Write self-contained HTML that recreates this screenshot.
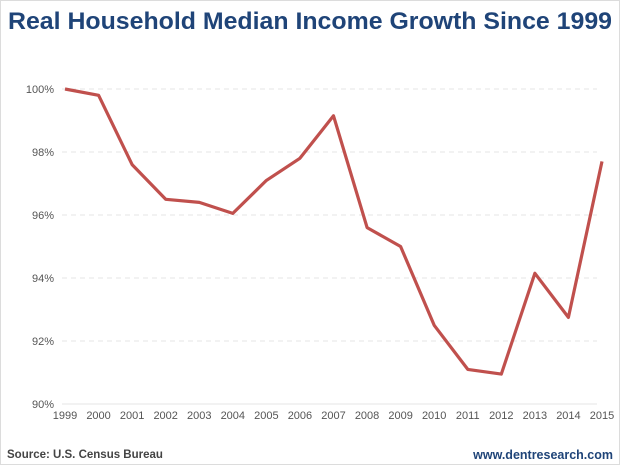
<!DOCTYPE html>
<html><head><meta charset="utf-8"><style>
html,body{margin:0;padding:0;background:#fff}
svg{display:block}
</style></head><body>
<svg width="620" height="465" viewBox="0 0 620 465" xmlns="http://www.w3.org/2000/svg" font-family="Liberation Sans, Arial, sans-serif">
<rect x="0.5" y="0.5" width="619" height="464" fill="#fff" stroke="#dcdcdc"/>
<text x="8" y="29" font-size="24.5" font-weight="bold" fill="#1f4478" textLength="604" lengthAdjust="spacingAndGlyphs">Real Household Median Income Growth Since 1999</text>
<g id="grid"></g><g id="yt"></g><g id="xt"></g>
<path id="line" fill="none" stroke="#c0504d" stroke-width="3.2" stroke-linejoin="round"/>
<text x="7" y="458" font-size="11.5" font-weight="bold" fill="#444">Source: U.S. Census Bureau</text>
<text x="613" y="459" font-size="12.5" font-weight="bold" fill="#1f4478" text-anchor="end">www.dentresearch.com</text>
</svg>
<script>
const years=[1999,2000,2001,2002,2003,2004,2005,2006,2007,2008,2009,2010,2011,2012,2013,2014,2015];
const values=[100,99.8,97.6,96.5,96.4,96.05,97.1,97.8,99.15,95.6,95.0,92.5,91.1,90.95,94.15,92.75,97.7];
const yTicks=[90,92,94,96,98,100];
const yTickLabels=["90%","92%","94%","96%","98%","100%"];
const NS="http://www.w3.org/2000/svg";
const x0=65,x1=602,yTop=89,yBot=404;
function xs(i){return x0+(x1-x0)*i/(years.length-1);}
function ys(v){return yBot-(v-90)/(100-90)*(yBot-yTop);}
const grid=document.getElementById('grid'),yt=document.getElementById('yt'),xt=document.getElementById('xt');
yTicks.forEach((t,i)=>{
  const l=document.createElementNS(NS,'line');
  l.setAttribute('x1',62);l.setAttribute('x2',597);l.setAttribute('y1',ys(t));l.setAttribute('y2',ys(t));
  l.setAttribute('stroke',t===90?'#e4e4e4':'#e6e6e6');l.setAttribute('stroke-width',1);
  if(t!==90)l.setAttribute('stroke-dasharray','5,4');
  
  
  grid.appendChild(l);
  const tx=document.createElementNS(NS,'text');
  tx.setAttribute('x',54);tx.setAttribute('y',ys(t)+4);tx.setAttribute('text-anchor','end');
  tx.setAttribute('font-size','11');tx.setAttribute('fill','#555');tx.textContent=yTickLabels[i];
  
  
  yt.appendChild(tx);
});
years.forEach((y,i)=>{
  const tx=document.createElementNS(NS,'text');
  tx.setAttribute('x',xs(i));tx.setAttribute('y',419);tx.setAttribute('text-anchor','middle');
  tx.setAttribute('font-size','11');tx.setAttribute('fill','#555');tx.textContent=y;
  
  
  xt.appendChild(tx);
});
document.getElementById('line').setAttribute('d',values.map((v,i)=>(i?'L':'M')+xs(i).toFixed(1)+','+ys(v).toFixed(1)).join(''));
</script>
</body></html>
